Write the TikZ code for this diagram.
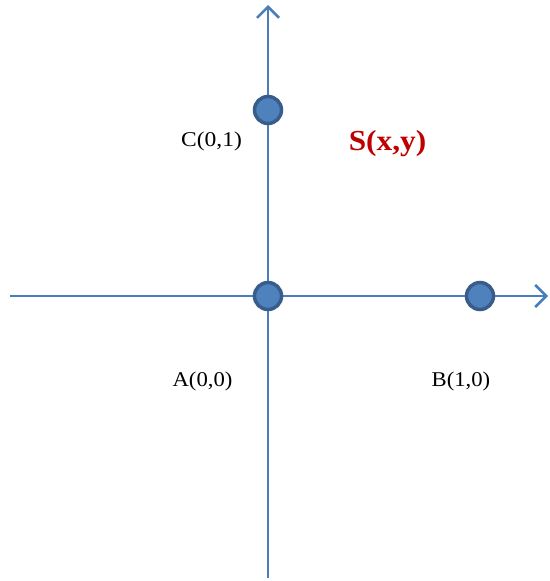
\documentclass[tikz,border=0pt]{standalone}
\usepackage{xcolor}
\usepackage{graphicx}
\usepackage{fontspec}
\setmainfont{Liberation Serif}
\usepackage{tikz}
\usetikzlibrary{arrows.meta, positioning, calc}
\definecolor{axisblue}{RGB}{74,126,187}
\definecolor{dotfill}{RGB}{79,129,189}
\definecolor{dotline}{RGB}{56,93,138}
\definecolor{labred}{RGB}{192,0,0}
\newcommand{\widetxt}[2]{\scalebox{#1}[1]{#2}}

\begin{document}
\begin{tikzpicture}[x=1pt, y=-1pt,
    axis/.style={draw=axisblue, line width=2.5pt, -{Straight Barb[length=11pt, width=22pt, line width=2.5pt]}},
    dot/.style={circle, draw=dotline, fill=dotfill, line width=3.5pt, minimum size=27pt, inner sep=0pt},
    lab/.style={font=\fontsize{21}{23}\selectfont, inner sep=0pt},
]
    \useasboundingbox (0,0) rectangle (549,581);

    \coordinate (xl) at (10,296);
    \coordinate (xr) at (548,296);
    \coordinate (yb) at (268,578);
    \coordinate (yt) at (268,5);
    \draw[axis] (xl) -- (xr);
    \draw[axis] (yb) -- (yt);

    \node[dot] (ptC) at (268,110) {};
    \node[dot] (ptA) at (268,296) {};
    \node[dot] (ptB) at (480,296) {};

    \node[lab] (labC) at (211.5,141) {\widetxt{1.12}{C(0,1)}};
    \node[lab] (labA) at (202.5,381) {\widetxt{1.08}{A(0,0)}};
    \node[lab] (labB) at (461,381) {\widetxt{1.08}{B(1,0)}};
    \node[lab, font=\fontsize{29}{31}\selectfont\bfseries, text=labred] (labS) at (387.5,143.5) {\widetxt{1.08}{S(x,y)}};
\end{tikzpicture}
\end{document}
